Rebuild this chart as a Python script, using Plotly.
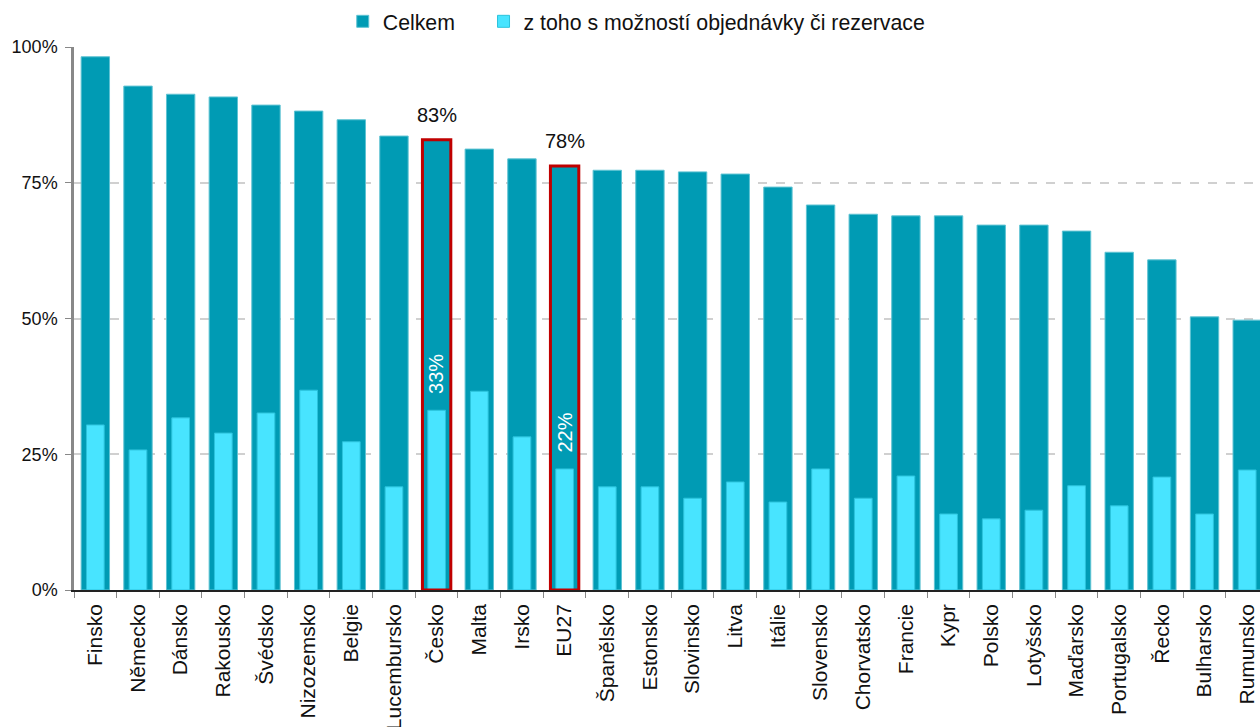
import plotly.graph_objects as go

countries = ["Finsko", "Německo", "Dánsko", "Rakousko", "Švédsko", "Nizozemsko", "Belgie",
             "Lucembursko", "Česko", "Malta", "Irsko", "EU27", "Španělsko", "Estonsko",
             "Slovinsko", "Litva", "Itálie", "Slovensko", "Chorvatsko", "Francie", "Kypr",
             "Polsko", "Lotyšsko", "Maďarsko", "Portugalsko", "Řecko", "Bulharsko", "Rumunsko"]
celkem = [98.2, 92.8, 91.3, 90.8, 89.3, 88.2, 86.6, 83.6, 82.9, 81.2, 79.4, 78.1, 77.3, 77.3,
          77.0, 76.6, 74.2, 70.9, 69.2, 68.9, 68.9, 67.2, 67.2, 66.1, 62.2, 60.8, 50.3, 49.7]
rezervace = [30.4, 25.8, 31.7, 28.9, 32.6, 36.8, 27.3, 19.0, 33.1, 36.6, 28.2, 22.3, 19.0, 19.0,
             16.9, 19.9, 16.2, 22.3, 16.9, 21.0, 14.0, 13.1, 14.7, 19.2, 15.5, 20.8, 14.0, 22.1]
highlight = ["Česko", "EU27"]
yticks = [0, 25, 50, 75, 100]
ytick_labels = ["0%", "25%", "50%", "75%", "100%"]

FONT = "Liberation Sans, Arial, sans-serif"
DARK = "#009BB4"
LIGHT = "#48E4FF"
W_OUT = 0.665
W_IN = 0.415

fig = go.Figure()
fig.add_trace(go.Bar(x=countries, y=celkem, name="Celkem", width=W_OUT, legend="legend",
                     marker=dict(color=DARK, line=dict(color="#5FC3D3", width=1))))
fig.add_trace(go.Bar(x=countries, y=rezervace, name="z toho s možností objednávky či rezervace",
                     width=W_IN, legend="legend2",
                     marker=dict(color=LIGHT, line=dict(color="#2CC3DC", width=1))))

shapes = []
annotations = []
for name in highlight:
    i = countries.index(name)
    shapes.append(dict(type="rect", xref="x", yref="y", x0=i - W_OUT / 2, x1=i + W_OUT / 2,
                       y0=0, y1=celkem[i], line=dict(color="#C00000", width=3)))
    annotations.append(dict(x=name, y=celkem[i], xref="x", yref="y", text=f"{round(celkem[i])}%",
                            showarrow=False, yanchor="bottom", yshift=12,
                            font=dict(family=FONT, size=20, color="#111")))
    annotations.append(dict(x=name, y=rezervace[i], xref="x", yref="y", text=f"{round(rezervace[i])}%",
                            showarrow=False, yanchor="bottom", yshift=14, textangle=-90,
                            font=dict(family=FONT, size=20, color="white")))

legend_style = dict(orientation="h", y=1.047, yanchor="middle", xanchor="left",
                    font=dict(family=FONT, size=21.3, color="#111"), itemwidth=30,
                    bgcolor="rgba(0,0,0,0)")

fig.update_layout(
    width=1260, height=727,
    margin=dict(l=74, r=0, t=47, b=137, autoexpand=False),
    barmode="overlay",
    plot_bgcolor="white", paper_bgcolor="white",
    font=dict(family=FONT, size=18, color="#111"),
    showlegend=True,
    legend=dict(x=0.2266, **legend_style),
    legend2=dict(x=0.3453, **legend_style),
    shapes=shapes,
    annotations=annotations,
    xaxis=dict(range=[-0.5, 27.3], tickangle=-90, showline=True, linecolor="#222", linewidth=1.5,
               ticks="outside", tickcolor="#888", ticklen=6, tickson="boundaries",
               ticklabelstandoff=4,
               showgrid=False, tickfont=dict(family=FONT, size=21, color="#111")),
    yaxis=dict(range=[0, 100], tickvals=yticks, ticktext=ytick_labels, showline=True,
               linecolor="#888", linewidth=2.5, ticks="outside", tickcolor="#888", ticklen=6,
               ticklabelstandoff=4,
               showgrid=True, gridcolor="#D0D0D0", griddash="dash", gridwidth=1.5,
               zeroline=False, tickfont=dict(family=FONT, size=18, color="#111")),
)

# remove the default 8px page margin and scrollbars so the figure fills the window exactly
page_fix = ("document.body.style.margin='0';"
            "document.body.style.overflow='hidden';"
            "document.documentElement.style.overflow='hidden';")
fig.write_html("out.html", post_script=page_fix, config={"displayModeBar": False})
